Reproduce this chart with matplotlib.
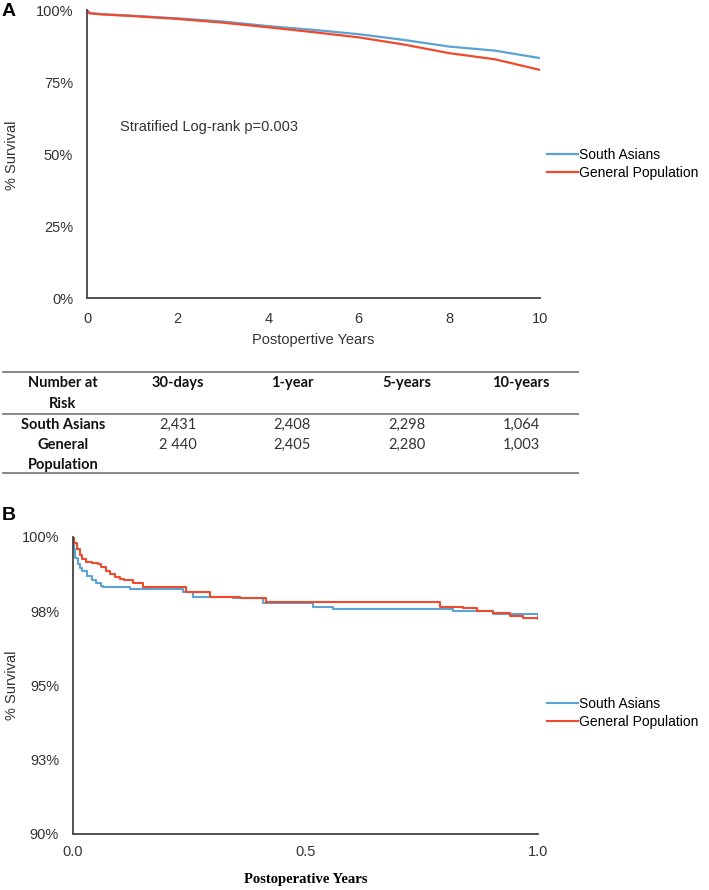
import matplotlib
matplotlib.use("Agg")
import matplotlib.pyplot as plt
from matplotlib.lines import Line2D

plt.rcParams['font.family'] = ['Liberation Sans', 'DejaVu Sans']

# panel A: 10-year survival
years_a = [0, 0.05, 0.3, 1, 2, 3, 4, 5, 6, 7, 8, 9, 10]
south_a = [100, 98.9, 98.6, 98.0, 97.1, 96.0, 94.4, 93.1, 91.6, 89.6, 87.3, 85.9, 83.3]
general_a = [100, 98.9, 98.5, 97.9, 96.9, 95.6, 94.0, 92.3, 90.5, 88.0, 85.0, 82.9, 79.2]

# panel B: first postoperative year
years_b_south = [0, 0.002, 0.005, 0.01, 0.015, 0.02, 0.03, 0.04, 0.05, 0.06, 0.065,
                 0.123, 0.237, 0.259, 0.345, 0.409, 0.517, 0.56, 0.817, 0.903, 1.0]
south_b = [100, 99.6, 99.3, 99.1, 98.95, 98.85, 98.7, 98.55, 98.45, 98.35, 98.3,
           98.25, 98.15, 97.98, 97.95, 97.78, 97.64, 97.58, 97.5, 97.4, 97.35]
years_b_general = [0, 0.003, 0.008, 0.015, 0.02, 0.029, 0.04, 0.054, 0.06, 0.07, 0.08, 0.09,
                   0.1, 0.11, 0.13, 0.151, 0.244, 0.294, 0.359, 0.416,
                   0.789, 0.839, 0.868, 0.903, 0.94, 0.968, 1.0]
general_b = [100, 99.8, 99.6, 99.4, 99.25, 99.15, 99.12, 99.1, 99.0, 98.85, 98.75, 98.65,
             98.6, 98.55, 98.45, 98.3, 98.15, 97.98, 97.95, 97.8,
             97.64, 97.6, 97.5, 97.44, 97.34, 97.27, 97.24]
yticks_b = [90, 92.5, 95, 97.5, 100]
yticklabels_b = ["90%", "93%", "95%", "98%", "100%"]

# number at risk table
risk_cols = ["30-days", "1-year", "5-years", "10-years"]
risk_south = ["2,431", "2,408", "2,298", "1,064"]
risk_general = ["2 440", "2,405", "2,280", "1,003"]

BLUE = "#5ba3d3"
RED = "#f04a2e"
SPINE = "#444444"
W, H = 709, 890

fig = plt.figure(figsize=(W / 100, H / 100), dpi=100)


def fx(px):
    return px / W


def fy(py):
    return 1 - py / H


def style(ax):
    for s in ["top", "right"]:
        ax.spines[s].set_visible(False)
    for s in ["left", "bottom"]:
        ax.spines[s].set_color(SPINE)
        ax.spines[s].set_linewidth(1.3)
    ax.tick_params(length=0, labelsize=10.5, colors="#333333")
    ax.tick_params(axis="y", pad=10)
    ax.tick_params(axis="x", pad=10)


# ---- panel A
axA = fig.add_axes([fx(87), fy(298), fx(540) - fx(87), fy(10) - fy(298)])
axA.plot(years_a, south_a, color=BLUE, lw=1.6, label="South Asians")
axA.plot(years_a, general_a, color=RED, lw=1.6, label="General Population")
axA.set_xlim(0, 10)
axA.set_ylim(0, 100)
axA.set_xticks([0, 2, 4, 6, 8, 10])
axA.set_yticks([0, 25, 50, 75, 100])
axA.set_yticklabels(["0%", "25%", "50%", "75%", "100%"])
style(axA)
axA.set_xlabel("Postopertive Years", fontsize=10.5, color="#333333", labelpad=5)
axA.text(0.73, 59.4, "Stratified Log-rank p=0.003", fontsize=10.5, color="#333333", va="center")
axA.legend(loc="center left", bbox_to_anchor=(fx(547), fy(164)), bbox_transform=fig.transFigure,
           frameon=False, fontsize=10, borderpad=0, borderaxespad=0, handletextpad=0.1,
           handlelength=2.2, labelspacing=0.25)
fig.text(fx(12), fy(155), "% Survival", rotation=90, fontsize=10.5, color="#333333",
         ha="center", va="center")
fig.text(fx(2), fy(12), "A", fontsize=14, fontweight="bold", ha="left", va="center")

# ---- table
tfont = ["Lato", "DejaVu Sans"]
tsize = 10.5
for py in [372, 414, 473]:
    fig.add_artist(Line2D([fx(3), fx(578)], [fy(py), fy(py)], color="#888888", lw=1.4))
col_x = [178, 292, 407, 521]
row_labels = [("Number at", 383), ("Risk", 404), ("South Asians", 425),
              ("General", 445), ("Population", 465)]
for lab, py in row_labels:
    fig.text(fx(63), fy(py), lab, fontsize=tsize, fontweight="bold", family=tfont,
             ha="center", va="center", color="#111111")
for x, c, s, g in zip(col_x, risk_cols, risk_south, risk_general):
    fig.text(fx(x), fy(383), c, fontsize=tsize, fontweight="bold", family=tfont,
             ha="center", va="center", color="#111111")
    fig.text(fx(x), fy(425), s, fontsize=tsize, family=tfont, ha="center", va="center", color="#333333")
    fig.text(fx(x), fy(445), g, fontsize=tsize, family=tfont, ha="center", va="center", color="#333333")

# ---- panel B
axB = fig.add_axes([fx(73), fy(834), fx(538) - fx(73), fy(537) - fy(834)])
axB.step(years_b_south, south_b, where="post", color=BLUE, lw=1.5, label="South Asians")
axB.step(years_b_general, general_b, where="post", color=RED, lw=1.5, label="General Population")
axB.set_xlim(0, 1.0)
axB.set_ylim(90, 100)
axB.set_xticks([0, 0.5, 1.0])
axB.set_xticklabels(["0.0", "0.5", "1.0"])
axB.set_yticks(yticks_b)
axB.set_yticklabels(yticklabels_b)
style(axB)
axB.tick_params(axis="x", pad=8)
axB.set_xlabel("Postoperative Years", fontsize=10.5, fontweight="bold",
               family=["Liberation Serif", "DejaVu Serif"], labelpad=10)
axB.legend(loc="center left", bbox_to_anchor=(fx(547), fy(713)), bbox_transform=fig.transFigure,
           frameon=False, fontsize=10, borderpad=0, borderaxespad=0, handletextpad=0.1,
           handlelength=2.2, labelspacing=0.25)
fig.text(fx(12), fy(685), "% Survival", rotation=90, fontsize=10.5, color="#333333",
         ha="center", va="center")
fig.text(fx(2), fy(516), "B", fontsize=14, fontweight="bold", ha="left", va="center")

fig.savefig("out.png", dpi=100)
